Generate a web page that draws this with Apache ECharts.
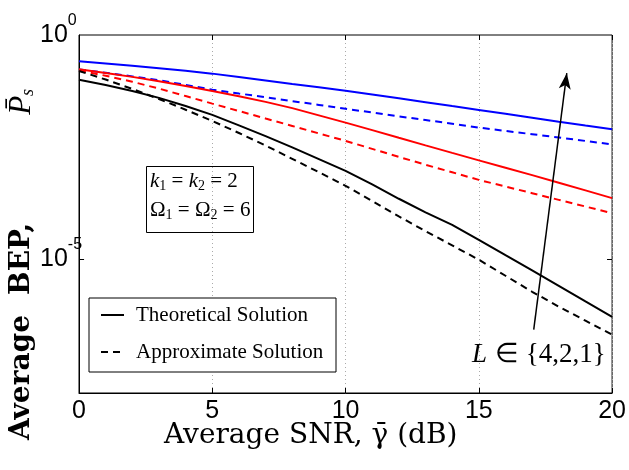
<!DOCTYPE html>
<html>
<head>
<meta charset="utf-8">
<script src="https://cdn.jsdelivr.net/npm/echarts@6/dist/echarts.min.js"></script>
<style>
  html, body { margin: 0; padding: 0; background: #fff; }
  #chart { width: 629px; height: 470px; }
</style>
</head>
<body>
<div id="chart"></div>
<script>
// Average SNR (dB)
const snr = [0, 1, 2, 3, 4, 5, 6, 7, 8, 9, 10, 11, 12, 13, 14, 15, 16, 17, 18, 19, 20];

// Average BEP for L = 1 (blue)
const bepL1Theory = [0.259, 0.232, 0.206, 0.181, 0.158, 0.137, 0.115, 0.0964, 0.0805, 0.0679, 0.0571,
  0.0470, 0.0385, 0.0316, 0.0258, 0.0212, 0.0173, 0.0141, 0.0115, 0.00948, 0.00785];
const bepL1Approx = [0.170, 0.143, 0.119, 0.0973, 0.0767, 0.0601, 0.0493, 0.0406, 0.0333, 0.0274, 0.0225,
  0.0185, 0.0152, 0.0126, 0.0104, 0.00853, 0.00719, 0.00607, 0.00511, 0.00429, 0.00360];

// Average BEP for L = 2 (red)
const bepL2Theory = [0.171, 0.142, 0.116, 0.0929, 0.0728, 0.0562, 0.0427, 0.0320, 0.0232, 0.0160, 0.0110,
  0.00748, 0.00505, 0.00342, 0.00232, 0.00158, 0.00108, 7.40e-4, 5.01e-4, 3.37e-4, 2.26e-4];
const bepL2Approx = [0.161, 0.123, 0.0902, 0.0635, 0.0432, 0.0293, 0.0200, 0.0136, 0.00929, 0.00632, 0.00431,
  0.00285, 0.00189, 0.00126, 8.55e-4, 5.79e-4, 4.11e-4, 2.92e-4, 2.07e-4, 1.47e-4, 1.04e-4];

// Average BEP for L = 4 (black)
const bepL4Theory = [0.1005, 0.0762, 0.0562, 0.0394, 0.0259, 0.0164, 0.00959, 0.00550, 0.00308, 0.00169, 9.20e-4,
  4.57e-4, 2.19e-4, 1.09e-4, 5.74e-5, 2.65e-5, 1.20e-5, 5.50e-6, 2.48e-6, 1.11e-6, 5.00e-7];
const bepL4Approx = [0.157, 0.101, 0.0624, 0.0372, 0.0214, 0.0120, 0.00646, 0.00339, 0.00171, 8.59e-4, 4.26e-4,
  1.95e-4, 8.81e-5, 4.15e-5, 1.99e-5, 9.51e-6, 4.17e-6, 1.83e-6, 8.51e-7, 4.14e-7, 2.01e-7];

// Labelled decades on the BEP axis
const yTickExponents = [0, -5];
const legendNames = ['Theoretical Solution', 'Approximate Solution'];

const pairs = arr => snr.map((x, i) => [x, arr[i]]);
const DASH = [7, 5];
const tickFont = "'Liberation Sans Narrow', 'Liberation Sans', Arial, sans-serif";
const serif = "'Liberation Serif', 'Times New Roman', serif";

function curve(name, data, color, dashed) {
  return {
    name: name,
    type: 'line',
    data: pairs(data),
    symbol: 'none',
    silent: true,
    lineStyle: { color: color, width: 2, type: dashed ? DASH : 'solid' },
    itemStyle: { color: color },
    z: 3
  };
}

const chart = echarts.init(document.getElementById('chart'), null, { renderer: 'canvas' });

const option = {
  animation: false,
  backgroundColor: '#fff',
  grid: {
    left: 79, right: 11, top: 35, bottom: 77,
    show: true, borderColor: '#000', borderWidth: 1, backgroundColor: 'transparent'
  },
  legend: {
    data: [
      { name: legendNames[0], lineStyle: { type: 'solid' } },
      { name: legendNames[1], lineStyle: { type: DASH } }
    ],
    orient: 'vertical',
    left: 89, top: 298,
    selectedMode: false,
    itemWidth: 23, itemHeight: 14, itemGap: 13,
    padding: [5, 10, 8, 11],
    borderColor: '#000', borderWidth: 1,
    backgroundColor: '#fff',
    itemStyle: { opacity: 0 },
    lineStyle: { width: 2, color: '#000' },
    textStyle: { fontFamily: serif, fontSize: 21, color: '#000', lineHeight: 24, width: 190, padding: [0, 0, 0, 7] }
  },
  xAxis: [{
    type: 'value', min: 0, max: 20, interval: 5,
    axisLine: { show: true, lineStyle: { color: '#000', width: 1 } },
    axisTick: { show: true, inside: true, length: 5, lineStyle: { color: '#000' } },
    axisLabel: { color: '#000', fontFamily: tickFont, fontSize: 25, margin: 6 },
    splitLine: { show: true, lineStyle: { color: '#aaa', type: [1, 3], width: 1 } }
  }, {
    type: 'value', position: 'top', min: 0, max: 20, interval: 5,
    axisLine: { show: false },
    axisTick: { show: true, inside: true, length: 5, lineStyle: { color: '#000' } },
    axisLabel: { show: false },
    splitLine: { show: false }
  }],
  yAxis: {
    type: 'log', logBase: 10, min: 1e-8, max: 1,
    axisLine: { show: true, lineStyle: { color: '#000', width: 1 } },
    axisTick: { show: false },
    minorTick: { show: false },
    splitLine: { show: false },
    axisLabel: {
      color: '#000', align: 'left', margin: 39,
      formatter: function (v) {
        const e = Math.round(Math.log10(v));
        return yTickExponents.indexOf(e) >= 0 ? '{b|10}{s|' + e + '}' : '';
      },
      rich: {
        b: { fontFamily: tickFont, fontSize: 25, color: '#000' },
        s: { fontFamily: tickFont, fontSize: 16, color: '#000', verticalAlign: 'top', padding: [0, 0, 28, 0] }
      }
    }
  },
  series: [
    curve('L1 theory', bepL1Theory, '#0000ff', false),
    curve('L1 approx', bepL1Approx, '#0000ff', true),
    curve('L2 theory', bepL2Theory, '#ff0000', false),
    curve('L2 approx', bepL2Approx, '#ff0000', true),
    curve('L4 theory', bepL4Theory, '#000000', false),
    curve('L4 approx', bepL4Approx, '#000000', true),
    // legend entries (line style only)
    { name: legendNames[0], type: 'line', data: [], symbol: 'none', itemStyle: { color: '#000' },
      lineStyle: { color: '#000', width: 2, type: 'solid' } },
    { name: legendNames[1], type: 'line', data: [], symbol: 'none', itemStyle: { color: '#000' },
      lineStyle: { color: '#000', width: 2, type: DASH } },
    // dotted grid line at 1e-5
    {
      name: 'guides', type: 'line', data: [], silent: true, z: 1,
      markLine: {
        silent: true, symbol: 'none', label: { show: false },
        lineStyle: { color: '#aaa', type: [1, 3], width: 1 },
        data: [{ yAxis: 1e-5 }]
      }
    },
    // inner ticks at 1e-5 on both sides
    {
      name: 'ticks', type: 'line', data: [], silent: true, z: 4,
      markLine: {
        silent: true, symbol: 'none', label: { show: false },
        lineStyle: { color: '#000', type: 'solid', width: 1 },
        data: [
          [{ coord: [0, 1e-5] }, { coord: [0.19, 1e-5] }],
          [{ coord: [19.81, 1e-5] }, { coord: [20, 1e-5] }]
        ]
      }
    },
    // arrow pointing towards decreasing L
    {
      name: 'arrow', type: 'line', data: [], silent: true, z: 5,
      markLine: {
        silent: true, symbol: ['none', 'arrow'], symbolSize: [9, 16], label: { show: false },
        lineStyle: { color: '#000', type: 'solid', width: 1.5 },
        data: [[{ coord: [17.06, 2.6e-7] }, { coord: [18.3, 0.14] }]]
      }
    }
  ],
  graphic: [
    {
      type: 'text', left: 164, top: 422, silent: true,
      style: {
        text: 'Average SNR, γ\u0304 (dB)',
        font: "28px 'DejaVu Serif', serif", fill: '#000'
      }
    },
    {
      type: 'text', x: 22, y: 440, rotation: Math.PI / 2, silent: true,
      style: {
        text: '{t|Average}{g1|}{t|BEP,}{g2|}{p|P\u0304}{s|s}',
        align: 'left', textAlign: 'left', verticalAlign: 'middle', textVerticalAlign: 'middle',
        rich: {
          t: { fontFamily: "'DejaVu Serif', serif", fontWeight: 'bold', fontSize: 28, fill: '#000', color: '#000', lineHeight: 30 },
          g1: { width: 20, fontSize: 28, lineHeight: 30 },
          g2: { width: 108, fontSize: 28, lineHeight: 30 },
          p: { fontFamily: serif, fontStyle: 'italic', fontSize: 31, fill: '#000', color: '#000', lineHeight: 30 },
          s: { fontFamily: serif, fontStyle: 'italic', fontSize: 18, fill: '#000', color: '#000', verticalAlign: 'bottom', lineHeight: 20 }
        }
      }
    },
    {
      type: 'group', silent: true,
      children: [
        { type: 'rect', shape: { x: 146.5, y: 166.5, width: 107, height: 66 },
          style: { fill: '#fff', stroke: '#000', lineWidth: 1 } },
        { type: 'text', x: 150, y: 181,
          style: {
            text: '{i|k}{u|1}{n| = }{i|k}{u|2}{n| = 2}',
            verticalAlign: 'middle', textVerticalAlign: 'middle',
            rich: {
              i: { fontFamily: serif, fontStyle: 'italic', fontSize: 21, lineHeight: 24, fill: '#000', color: '#000' },
              n: { fontFamily: serif, fontSize: 21, lineHeight: 24, fill: '#000', color: '#000' },
              u: { fontFamily: serif, fontSize: 14, lineHeight: 16, verticalAlign: 'bottom', fill: '#000', color: '#000' }
            }
          }
        },
        { type: 'text', x: 150, y: 210,
          style: {
            text: '{n|Ω}{u|1}{n| = Ω}{u|2}{n| = 6}',
            verticalAlign: 'middle', textVerticalAlign: 'middle',
            rich: {
              n: { fontFamily: serif, fontSize: 21, lineHeight: 24, fill: '#000', color: '#000' },
              u: { fontFamily: serif, fontSize: 14, lineHeight: 16, verticalAlign: 'bottom', fill: '#000', color: '#000' }
            }
          }
        }
      ]
    },
    {
      type: 'group', silent: true,
      children: [
        { type: 'text', x: 472, y: 355,
          style: { text: 'L', font: "italic 27px 'Liberation Serif', serif", fill: '#000',
            align: 'left', textAlign: 'left', verticalAlign: 'middle', textVerticalAlign: 'middle' } },
        { type: 'text', x: 495, y: 355,
          style: { text: '∈ {4,2,1}', font: "27px 'Liberation Serif', serif", fill: '#000',
            align: 'left', textAlign: 'left', verticalAlign: 'middle', textVerticalAlign: 'middle' } }
      ]
    }
  ]
};

chart.setOption(option);
</script>
</body>
</html>
